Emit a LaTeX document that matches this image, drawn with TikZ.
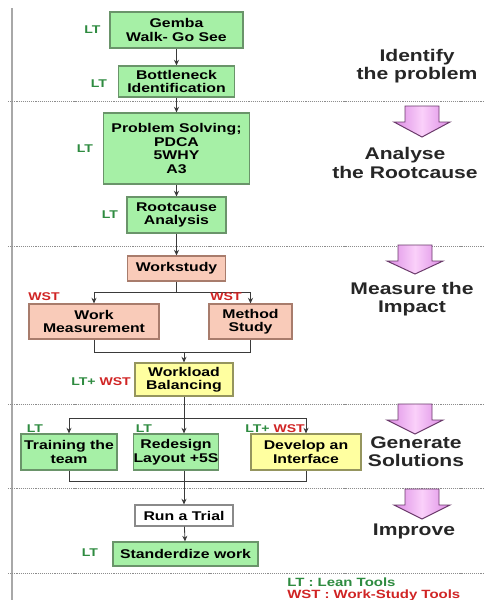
\documentclass[tikz,border=0pt]{standalone}
\usepackage{fontspec}
\setmainfont{Liberation Sans}[FakeStretch=1.25]
\usetikzlibrary{arrows.meta,calc}
\definecolor{gfill}{HTML}{A6F0A6}
\definecolor{gdraw}{HTML}{6A946A}
\definecolor{sfill}{HTML}{F9CBB9}
\definecolor{sdraw}{HTML}{A87C6C}
\definecolor{yfill}{HTML}{FFFFA0}
\definecolor{ydraw}{HTML}{95955E}
\definecolor{wdraw}{HTML}{8A8A8A}
\definecolor{ltc}{HTML}{2E8B40}
\definecolor{wstc}{HTML}{D02424}
\definecolor{linec}{HTML}{3A3A3A}
\definecolor{sepc}{HTML}{8C8C8C}
\definecolor{vlinec}{HTML}{A8A8A8}
\definecolor{pinkA}{HTML}{FAD0FA}
\definecolor{pinkB}{HTML}{DC8CE4}
\definecolor{pinkD}{HTML}{6A3A6A}
\begin{document}
\begin{tikzpicture}[x=0.025cm,y=-0.025cm,
  sz/.style 2 args={minimum width=#1*0.025cm, minimum height=#2*0.025cm},
  box/.style={draw, line width=0.8pt, inner sep=0pt, align=center,
    font=\fontsize{9}{9.6}\selectfont\bfseries},
  gbox/.style={box, fill=gfill, draw=gdraw},
  sbox/.style={box, fill=sfill, draw=sdraw},
  ybox/.style={box, fill=yfill, draw=ydraw},
  wbox/.style={box, fill=white, draw=wdraw},
  conn/.style={draw=linec, line width=0.6pt},
  arr/.style={conn, -{Stealth[length=4pt,width=3.6pt]}},
  lbl/.style={font=\fontsize{8}{9}\selectfont\bfseries, inner sep=0pt},
  phase/.style={font=\fontsize{12}{13}\selectfont\bfseries, align=center, text=black!85, inner sep=0pt},
  legend/.style={font=\fontsize{8.5}{9}\selectfont\bfseries, inner sep=0pt, anchor=west},
  sep/.style={draw=sepc, line width=0.6pt, dash pattern=on 0.8pt off 0.7pt},
  pinkarrow/.pic={
    \path[draw=pinkD, line width=0.7pt, left color=pinkB, right color=pinkB, middle color=pinkA]
      (-17,0) -- (17,0) -- (17,16) -- (28,16) -- (0,#1) -- (-28,16) -- (-17,16) -- cycle;
  }
]
\useasboundingbox (0,0) rectangle (484,600);
% left vertical rule
\draw[draw=vlinec, line width=1.5pt] (12,8) -- (12,600);
% separators
\foreach \yy in {101,246,404,488,573} \draw[sep] (8,\yy) -- (484,\yy);

% boxes
\node[gbox, sz={133}{36}] (gemba) at (176.5,30) {Gemba\\Walk- Go See};
\node[gbox, sz={116}{31}] (bott) at (176.5,81.5) {Bottleneck\\Identification};
\node[gbox, sz={146}{71}] (prob) at (176.5,148.5) {Problem Solving;\\PDCA\\5WHY\\A3};
\node[gbox, sz={99}{36}] (root) at (176.5,215) {Rootcause\\Analysis};
\node[sbox, sz={98}{25}] (ws) at (176.5,268.5) {Workstudy};
\node[sbox, sz={130}{35}] (wm) at (94,321.5) {Work\\Measurement};
\node[sbox, sz={83}{35}] (ms) at (250.5,321.5) {Method\\Study};
\node[ybox, sz={98}{33}] (wb) at (184,379.5) {Workload\\Balancing};
\node[gbox, sz={96}{36}] (train) at (69,452) {Training the\\team};
\node[gbox, sz={82}{36}] (redes) at (176,452) {Redesign\\Layout +5S};
\node[ybox, sz={110}{36}] (dev) at (306,452) {Develop an\\Interface};
\node[wbox, sz={98}{21}] (trial) at (184,515.5) {Run a Trial};
\node[gbox, sz={145}{24}] (std) at (185.5,554) {Standerdize work};

% connectors
\draw[arr] (gemba) -- (bott);
\draw[arr] (bott) -- (prob);
\draw[arr] (prob) -- (root);
\draw[arr] (root) -- (ws);
\coordinate (s1) at ($(ws.south)+(0,11)$);
\draw[conn] (ws.south) -- (s1);
\draw[arr] (s1) -| (wm.north);
\draw[arr] (s1) -| (ms.north);
\coordinate (j1) at (184,352);
\draw[conn] (wm.south) -- (wm.south |- j1) -- (ms.south |- j1) -- (ms.south);
\draw[arr] (j1) -- (wb.north);
\coordinate (s2) at (184,418);
\draw[conn] (wb.south) -- (s2);
\draw[arr] (s2) -| (train.north);
\draw[arr] (s2) -| (dev.north);
\draw[arr] (s2) -- (s2 |- redes.north);
\coordinate (j2) at (184,481);
\draw[conn] (train.south) -- (train.south |- j2) -- (dev.south |- j2) -- (dev.south);
\draw[conn] (s2 |- redes.south) -- (j2);
\draw[arr] (j2) -- (trial.north);
\draw[arr] (trial) -- (std);

% tool labels
\node[lbl, text=ltc] (l1) at (92.5,30) {LT};
\node[lbl, text=ltc] (l2) at (99,83.5) {LT};
\node[lbl, text=ltc] (l3) at (85,149) {LT};
\node[lbl, text=ltc] (l4) at (110,215) {LT};
\node[lbl, text=wstc] (l5) at (44,297) {WST};
\node[lbl, text=wstc] (l6) at (226,297) {WST};
\node[lbl] (l7) at (101,382) {\textcolor{ltc}{LT+} \textcolor{wstc}{WST}};
\node[lbl, text=ltc] (l8) at (35,429) {LT};
\node[lbl, text=ltc] (l9) at (144,429) {LT};
\node[lbl] (l10) at (275,429) {\textcolor{ltc}{LT+} \textcolor{wstc}{WST}};
\node[lbl, text=ltc] (l11) at (90,553) {LT};

% phase labels
\node[phase] (p1) at (417,66) {Identify\\the problem};
\node[phase] (p2) at (405,163) {Analyse\\the Rootcause};
\node[phase] (p3) at (412,299) {Measure the\\Impact};
\node[phase] (p4) at (416,452) {Generate\\Solutions};
\node[phase] (p5) at (414,531) {Improve};

% pink arrows
\pic at (422,106) {pinkarrow=31};
\pic at (415,245) {pinkarrow=29};
\pic at (415,404) {pinkarrow=30};
\pic at (422,489) {pinkarrow=30};

% legend
\node[legend, text=ltc] (lg1) at (287,582) {LT : Lean Tools};
\node[legend, text=wstc] (lg2) at (287,595) {WST : Work-Study Tools};
\end{tikzpicture}
\end{document}
